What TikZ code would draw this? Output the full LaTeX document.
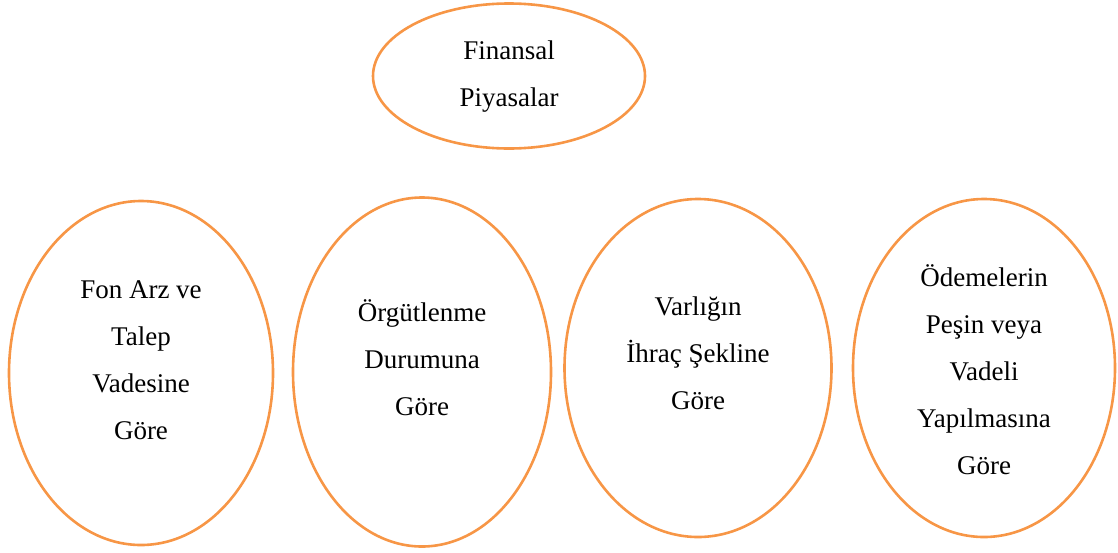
\documentclass[tikz,border=0pt]{standalone}
\usepackage{fontspec}
\setmainfont{Liberation Serif}
\usetikzlibrary{shapes.geometric}
\definecolor{orng}{RGB}{247,150,70}
\begin{document}
\begin{tikzpicture}[x=1pt,y=-1pt,
  oval/.style={draw=orng,line width=2.6pt,ellipse,inner sep=0pt},
  lbl/.style={align=center,inner sep=0pt,font=\fontsize{27}{47}\selectfont}]
\useasboundingbox (0,0) rectangle (1118,552);
\node[oval,minimum width=272pt,minimum height=145pt] (top) at (509,76) {};
\node[oval,minimum width=264pt,minimum height=344pt] (e1) at (141,373) {};
\node[oval,minimum width=258pt,minimum height=349pt] (e2) at (422,372) {};
\node[oval,minimum width=267pt,minimum height=338pt] (e3) at (698,368) {};
\node[oval,minimum width=262pt,minimum height=338pt] (e4) at (984,368) {};
\node[lbl] (ttop) at (509,77) {Finansal\\Piyasalar};
\node[lbl] (t1) at (141,360) {Fon Arz ve\\Talep\\Vadesine\\Göre};
\node[lbl] (t2) at (422,358) {Örgütlenme\\Durumuna\\Göre};
\node[lbl] (t3) at (698,353) {Varlığın\\İhraç Şekline\\Göre};
\node[lbl] (t4) at (984,370) {Ödemelerin\\Peşin veya\\Vadeli\\Yapılmasına\\Göre};
\end{tikzpicture}
\end{document}
